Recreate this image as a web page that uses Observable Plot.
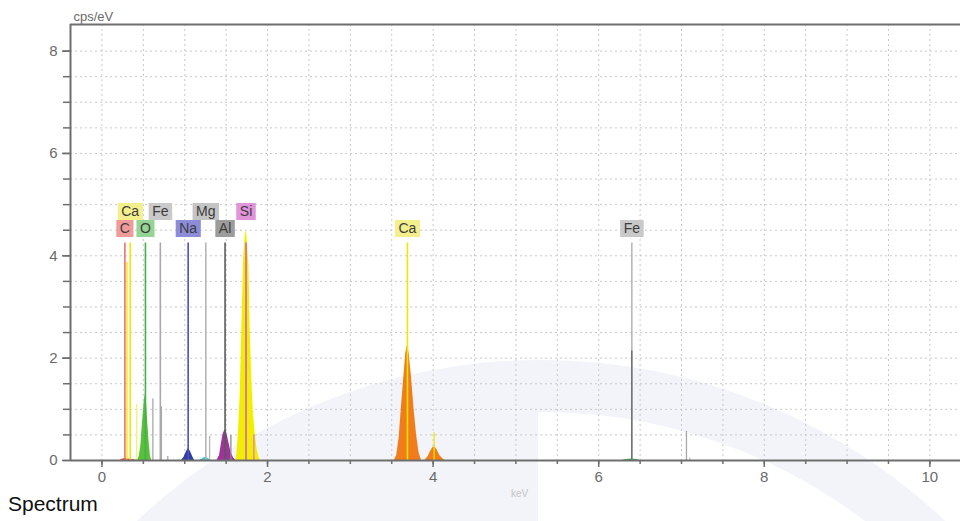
<!DOCTYPE html>
<html>
<head>
<meta charset="utf-8">
<script src="https://cdn.jsdelivr.net/npm/d3@7"></script>
<script src="https://cdn.jsdelivr.net/npm/@observablehq/plot@0.6"></script>
<style>
  html, body { margin: 0; padding: 0; background: #fff; }
  body { position: relative; width: 960px; height: 521px; overflow: hidden; font-family: "Liberation Sans", Arial, sans-serif; }
  #bg { position: absolute; left: 0; top: 0; }
  #chart { position: absolute; left: 0; top: 0; }
  #title { position: absolute; left: 8px; top: 492px; font-size: 21px; line-height: 24px; color: #111; }
</style>
</head>
<body>
<svg id="bg" width="960" height="521"></svg>
<div id="chart"></div>
<div id="title">Spectrum</div>
<script>
// ---------- axis ticks ----------
const xMinorTicks = [0, 0.5, 1, 1.5, 2, 2.5, 3, 3.5, 4, 4.5, 5, 5.5, 6, 6.5, 7, 7.5, 8, 8.5, 9, 9.5, 10];
const xTickLabels = [0, 2, 4, 6, 8, 10];
const yMinorTicks = [0, 0.5, 1, 1.5, 2, 2.5, 3, 3.5, 4, 4.5, 5, 5.5, 6, 6.5, 7, 7.5, 8];
const yTickLabels = [0, 2, 4, 6, 8];
const xDomain = [-0.38, 10.37];
const yDomain = [0, 8.52];
const yAxisTitle = "cps/eV";
const xAxisTitle = "keV";

// ---------- spectrum peaks (keV, cps/eV) ----------
const cPeakKeV  = [0.22, 0.25, 0.28, 0.31, 0.36, 0.40, 0.44];
const cPeakCps  = [0, 0.03, 0.04, 0.03, 0.02, 0.01, 0];
const oPeakKeV  = [0.43, 0.45, 0.47, 0.49, 0.51, 0.525, 0.54, 0.555, 0.57, 0.585, 0.60];
const oPeakCps  = [0, 0.08, 0.3, 0.75, 1.15, 1.3, 1.1, 0.7, 0.35, 0.1, 0];
const naPeakKeV = [0.96, 0.99, 1.02, 1.045, 1.07, 1.10, 1.12];
const naPeakCps = [0, 0.06, 0.17, 0.24, 0.17, 0.06, 0];
const mgPeakKeV = [1.18, 1.21, 1.24, 1.26, 1.29, 1.32];
const mgPeakCps = [0, 0.03, 0.06, 0.06, 0.03, 0];
const alPeakKeV = [1.39, 1.42, 1.44, 1.46, 1.48, 1.50, 1.52, 1.54, 1.56, 1.59, 1.62];
const alPeakCps = [0, 0.1, 0.3, 0.5, 0.58, 0.59, 0.45, 0.3, 0.15, 0.05, 0];
const siPeakKeV = [1.615, 1.63, 1.65, 1.67, 1.69, 1.71, 1.73, 1.745, 1.76, 1.775, 1.79, 1.81, 1.83, 1.85, 1.87, 1.89, 1.91];
const siPeakCps = [0, 0.12, 0.6, 1.3, 2.6, 3.9, 4.4, 4.49, 4.2, 3.8, 2.6, 1.6, 0.9, 0.55, 0.25, 0.1, 0];
const caKaKeV   = [3.53, 3.56, 3.59, 3.62, 3.65, 3.67, 3.69, 3.71, 3.74, 3.77, 3.80, 3.83, 3.86];
const caKaCps   = [0, 0.1, 0.45, 1.1, 1.7, 2.1, 2.25, 2.1, 1.6, 1.0, 0.5, 0.15, 0];
const caKbKeV   = [3.90, 3.94, 3.97, 4.00, 4.02, 4.05, 4.08, 4.12, 4.15];
const caKbCps   = [0, 0.08, 0.18, 0.26, 0.27, 0.2, 0.1, 0.03, 0];
const fePeakKeV = [6.28, 6.33, 6.40, 6.46, 6.50];
const fePeakCps = [0, 0.02, 0.03, 0.02, 0];

const peakKeV   = [cPeakKeV, oPeakKeV, naPeakKeV, mgPeakKeV, alPeakKeV, siPeakKeV, caKaKeV, caKbKeV, fePeakKeV];
const peakCps   = [cPeakCps, oPeakCps, naPeakCps, mgPeakCps, alPeakCps, siPeakCps, caKaCps, caKbCps, fePeakCps];
const peakFills = ["#e2474f", "#5cbf3c", "#2f3fa0", "#3cc7cf", "#a0329c", "#f2ee00", "#f07c1c", "#f07c1c", "#2fb04a"];

// ---------- element marker lines ----------
const markerElements = ["C", "Ca", "O", "Fe", "Na", "Mg", "Al", "Si", "Ca", "Fe"];
const markerKeV      = [0.277, 0.341, 0.525, 0.705, 1.041, 1.254, 1.487, 1.740, 3.690, 6.400];
const markerCps      = [4.25, 4.25, 4.25, 4.25, 4.25, 4.25, 4.25, 4.25, 4.25, 4.25];
const markerRow      = ["lower", "upper", "lower", "upper", "lower", "upper", "lower", "upper", "lower", "lower"];
const markerLineColors  = ["#f07272", "#f2e600", "#3fb24a", "#a9a9a9", "#4b4fc0", "#b5b5b5", "#5a5a5a", "#d25fc6", "#f2e600", "#b8b8b8"];
const markerLabelColors = ["#f19a9a", "#f3ef8c", "#94d494", "#c9c9c9", "#8c8cd8", "#c4c4c4", "#9c9c9c", "#e294da", "#f3ef8c", "#c9c9c9"];

// ---------- secondary lines ----------
const minorLineKeV    = [0.302, 0.42, 0.615, 0.718, 0.795, 1.30, 1.557, 1.835, 4.012, 6.40, 7.06, 7.10];
const minorLineCps    = [3.87, 1.1, 1.2, 1.05, 0.08, 0.47, 0.49, 0.5, 0.54, 2.14, 0.57, 0.05];
const minorLineColors = ["#f2e600", "#f5ef70", "#a9a9a9", "#a9a9a9", "#a9a9a9", "#b5b5b5", "#8a8a8a", "#e07ad6", "#f2e600", "#666666", "#a9a9a9", "#c8c8c8"];

// ---------- tables ----------
const peaks = peakKeV.map((ks, i) => ks.map((k, j) => ({keV: k, cps: peakCps[i][j], fill: peakFills[i]})));
const markers = markerElements.map((el, i) => ({
  element: el, keV: markerKeV[i], cps: markerCps[i], row: markerRow[i],
  line: markerLineColors[i], label: markerLabelColors[i]
}));
const minorLines = minorLineKeV.map((k, i) => ({keV: k, cps: minorLineCps[i], color: minorLineColors[i]}));
const upper = markers.filter(d => d.row === "upper");
const lower = markers.filter(d => d.row === "lower");

const axisColor = "#6e6e6e";
const textColor = "#6a6a6a";
const upperInk = "#3c3c3c";
const lowerInk = "#3c3c3d";

// ---------- faint background watermark (decoration only) ----------
(function drawWatermark() {
  const bg = d3.select("#bg");
  const cx = 541, cy = 948, rOuter = 588, rInner = 536;
  bg.append("circle").attr("cx", cx).attr("cy", cy).attr("r", rOuter).attr("fill", "#f2f4f9");
  const clip = bg.append("clipPath").attr("id", "cut");
  clip.append("rect").attr("x", 538).attr("y", 410).attr("width", 500).attr("height", 200);
  bg.append("circle").attr("cx", cx).attr("cy", cy).attr("r", rInner).attr("fill", "#ffffff").attr("clip-path", "url(#cut)");
})();

const plot = Plot.plot({
  width: 960,
  height: 492,
  marginTop: 24,
  marginBottom: 32,
  marginLeft: 70,
  marginRight: 0,
  style: {fontFamily: "Liberation Sans, Arial, sans-serif", fontSize: "15px", background: "transparent", overflow: "visible"},
  x: {domain: xDomain, axis: null, label: null},
  y: {domain: yDomain, axis: null, label: null},
  marks: [
    Plot.gridX(xMinorTicks, {stroke: "#c8c8c8", strokeOpacity: 1, strokeDasharray: "2,3"}),
    Plot.gridY(yMinorTicks.filter(d => d > 0), {stroke: "#c8c8c8", strokeOpacity: 1, strokeDasharray: "2,3"}),
    ...peaks.map(p => Plot.areaY(p, {x: "keV", y: "cps", fill: p[0].fill, fillOpacity: 1})),
    Plot.ruleX(markers, {x: "keV", y1: 0, y2: "cps", stroke: "line", strokeWidth: 1.6}),
    Plot.ruleX(minorLines, {x: "keV", y1: 0, y2: "cps", stroke: "color", strokeWidth: 1.3}),
    Plot.text(upper, {x: "keV", y: "cps", text: "element", dy: -31, fill: upperInk, fontSize: 14}),
    Plot.text(lower, {x: "keV", y: "cps", text: "element", dy: -14, fill: lowerInk, fontSize: 14}),
    Plot.axisX(xMinorTicks, {tickSize: 4, tickFormat: () => "", stroke: axisColor, strokeWidth: 1.5, label: null}),
    Plot.axisX(xTickLabels, {tickSize: 7, tickPadding: 4, tickFormat: d => String(d), stroke: axisColor, strokeWidth: 1.5, fill: textColor, label: null, fontSize: 15}),
    Plot.axisY(yMinorTicks, {tickSize: 7, tickFormat: () => "", stroke: axisColor, strokeWidth: 1.5, label: null}),
    Plot.axisY(yTickLabels, {tickSize: 8, tickPadding: 5, tickFormat: d => String(d), stroke: axisColor, strokeWidth: 1.5, fill: textColor, label: null, fontSize: 15}),
    Plot.ruleY([yDomain[0]], {stroke: axisColor, strokeWidth: 2}),
    Plot.ruleY([yDomain[1]], {stroke: axisColor, strokeWidth: 2}),
    Plot.ruleX([xDomain[0]], {stroke: axisColor, strokeWidth: 2}),
    Plot.text([yAxisTitle], {frameAnchor: "top-left", text: d => d, dx: 3, dy: -4, lineAnchor: "bottom", textAnchor: "start", fill: textColor, fontSize: 13}),
    Plot.text([xAxisTitle], {frameAnchor: "bottom", text: d => d, dx: 4, dy: 33, lineAnchor: "middle", fill: "#c4c4c4", fontSize: 10})
  ]
});

document.getElementById("chart").append(plot);

// label boxes behind element labels
[[upperInk, upper], [lowerInk, lower]].forEach(([ink, rows]) => {
  const g = Array.from(plot.querySelectorAll("g")).find(el => el.getAttribute("fill") === ink);
  if (!g) return;
  const texts = Array.from(g.querySelectorAll("text"));
  texts.forEach((t, i) => {
    const b = t.getBBox();
    const r = document.createElementNS("http://www.w3.org/2000/svg", "rect");
    const h = 17;
    r.setAttribute("x", b.x - 3.5);
    r.setAttribute("y", b.y + b.height / 2 - h / 2);
    r.setAttribute("width", b.width + 7);
    r.setAttribute("height", h);
    r.setAttribute("fill", rows[i] ? rows[i].label : "#ccc");
    if (t.getAttribute("transform")) r.setAttribute("transform", t.getAttribute("transform"));
    t.parentNode.insertBefore(r, t);
  });
});
</script>
</body>
</html>
